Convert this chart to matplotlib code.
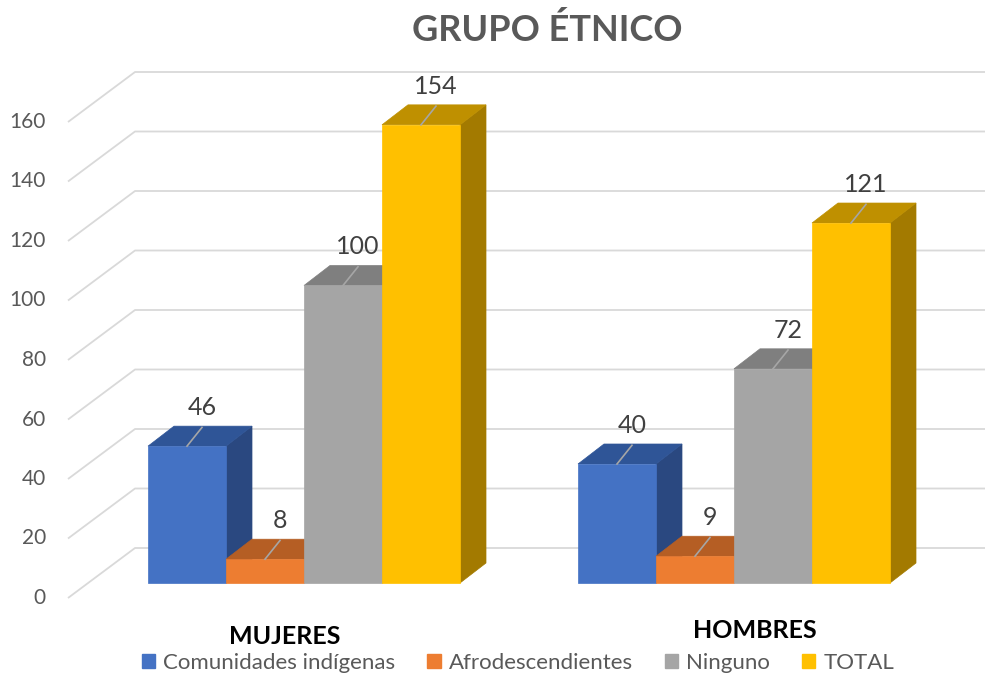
import matplotlib.pyplot as plt
from matplotlib.patches import Polygon, Patch

plt.rcParams['font.family'] = ['Lato', 'DejaVu Sans']

categories = ['MUJERES', 'HOMBRES']
series = ['Comunidades indígenas', 'Afrodescendientes', 'Ninguno', 'TOTAL']
comunidades = [46, 40]
afro = [8, 9]
ninguno = [100, 72]
total = [154, 121]
ticks = [0, 20, 40, 60, 80, 100, 120, 140, 160]

values = [comunidades, afro, ninguno, total]
# front, top, side colours
front_cols = ['#4472C4', '#ED7D31', '#A5A5A5', '#FFC000']
top_cols = ['#2F5597', '#B55E24', '#7F7F7F', '#BF9000']
side_cols = ['#2A4880', '#9E5220', '#7B7B7B', '#A37A00']

# pixels per value unit, the plot is laid out in pixel x / value y
PX = 2.975
W, H = 986, 677
fig = plt.figure(figsize=(W / 100, H / 100), dpi=100)
ax = fig.add_axes([0, 0, 1, 1])
ax.set_xlim(0, W)
ax.set_ylim((598 - H) / PX, 598 / PX)
ax.axis('off')

wall_dx, wall_dy = 67, 50 / PX
bar_dx, bar_dy = 26, 20 / PX
base = 15 / PX
bar_w = 78
group_left = [148, 578]

# oblique gridlines
for v in ticks:
    ax.plot([68, 68 + wall_dx, 985], [v, v + wall_dy, v + wall_dy],
            color='#D9D9D9', lw=1.3, zorder=1, solid_capstyle='butt')
    ax.text(46, v, str(v), ha='right', va='center', fontsize=15, color='#595959')

z = 2
for g in range(len(categories)):
    for i, vals in enumerate(values):
        x0 = group_left[g] + i * bar_w
        x1 = x0 + bar_w
        top = base + vals[g]
        side = Polygon([(x1, base), (x1 + bar_dx, base + bar_dy),
                        (x1 + bar_dx, top + bar_dy), (x1, top)],
                       closed=True, fc=side_cols[i], ec=side_cols[i], lw=0.5, zorder=z)
        lid = Polygon([(x0, top), (x1, top), (x1 + bar_dx, top + bar_dy),
                       (x0 + bar_dx, top + bar_dy)],
                      closed=True, fc=top_cols[i], ec=top_cols[i], lw=0.5, zorder=z)
        face = Polygon([(x0, base), (x1, base), (x1, top), (x0, top)],
                       closed=True, fc=front_cols[i], ec=front_cols[i], lw=0.5, zorder=z)
        ax.add_patch(side)
        ax.add_patch(lid)
        ax.add_patch(face)
        xc = x0 + bar_w / 2
        ax.plot([xc, xc + 15], [top, top + 6.3], color='#A6A6A6', lw=1.2, zorder=z + 0.5)
        ax.text(xc + 15, top + 13.0, str(vals[g]), ha='center', va='center',
                fontsize=18, color='#404040', zorder=z + 0.6)
        z += 1

# category labels
cat_pos = [(285, -12.8), (755, -10.8)]
for name, (x, y) in zip(categories, cat_pos):
    ax.text(x, y, name, ha='center', va='center', fontsize=18, fontweight='bold',
            color='black')

fig.text(547 / W, 1 - 30 / H, 'GRUPO ÉTNICO', ha='center', va='center',
         fontsize=26, fontweight='bold', color='#595959')

handles = [Patch(color=c, label=s) for c, s in zip(front_cols, series)]
leg = fig.legend(handles=handles, loc='center', bbox_to_anchor=(518 / W, 1 - 663 / H),
                 ncol=4, frameon=False, fontsize=16, handlelength=0.6, handleheight=0.6,
                 handletextpad=0.35, columnspacing=1.45)
for t in leg.get_texts():
    t.set_color('#595959')

fig.savefig('out.png', dpi=100)
